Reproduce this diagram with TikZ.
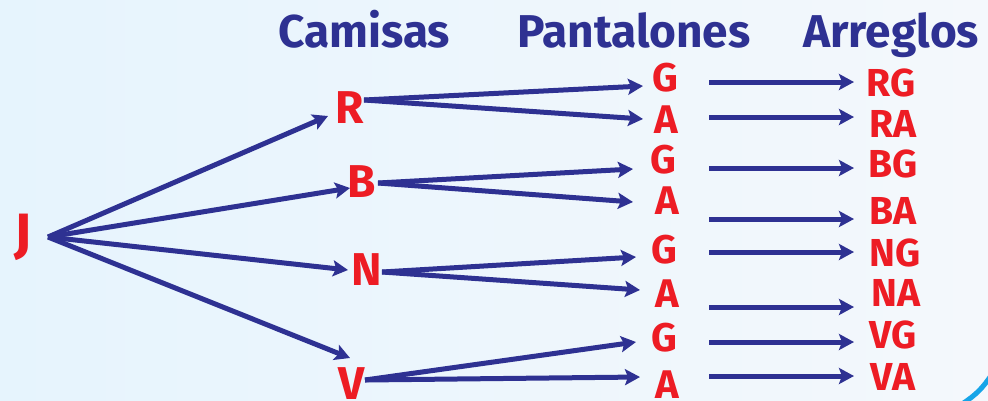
\documentclass[tikz,border=0pt]{standalone}
\usepackage{fontspec}
\setmainfont{Fira Sans}
\usetikzlibrary{arrows.meta,calc}
\definecolor{navy}{HTML}{2E3192}
\definecolor{redl}{HTML}{ED1C24}
\definecolor{bgl}{HTML}{E6F4FD}
\definecolor{bgr}{HTML}{F4F8FC}
\definecolor{arcc}{HTML}{16A5E8}
\tikzset{
  head/.style={text=navy,font=\fontsize{46}{46}\selectfont\bfseries,inner sep=0pt,anchor=base west},
  jl/.style={text=redl,font=\fontsize{54}{54}\selectfont\bfseries,inner sep=0pt},
  cl/.style={text=redl,font=\fontsize{46}{46}\selectfont\bfseries,inner sep=0pt},
  pl/.style={text=redl,font=\fontsize{40}{40}\selectfont\bfseries,inner sep=0pt},
  al/.style={text=redl,font=\fontsize{39}{39}\selectfont\bfseries,inner sep=0pt},
  arr/.style={draw=navy,line width=5pt,-{Stealth[length=15pt,width=16pt,inset=3pt]}}
}
\begin{document}
\begin{tikzpicture}[x=1pt,y=-1pt]
\useasboundingbox (0,0) rectangle (988,400);
\clip (0,0) rectangle (988,400);
\shade[left color=bgl,right color=bgr] (0,0) rectangle (988,400);
\draw[arcc,line width=5pt] (962,404) to[bend right=12] (992,374);
% headings
\node[head] (hC) at (278,47) {Camisas};
\node[head] (hP) at (517,47) {Pantalones};
\node[head] (hA) at (803,47) {Arreglos};
% nodes
\node[jl] (J) at (23,237) {J};
\node[cl] (R) at (350,108) {R};
\node[cl] (B) at (362,182) {B};
\node[cl] (N) at (367,270) {N};
\node[cl] (V) at (352,384) {V};
\node[pl] (G1) at (665,78) {G};
\node[pl] (A1) at (666,120) {A};
\node[pl] (G2) at (663,160) {G};
\node[pl] (A2) at (667,201) {A};
\node[pl] (G3) at (664,250) {G};
\node[pl] (A3) at (667,294) {A};
\node[pl] (G4) at (664,338) {G};
\node[pl] (A4) at (667,385) {A};
\node[al] (RG) at (891,83) {RG};
\node[al] (RA) at (893,124) {RA};
\node[al] (BG) at (893,164) {BG};
\node[al] (BA) at (893,211) {BA};
\node[al] (NG) at (895,253) {NG};
\node[al] (NA) at (896,293) {NA};
\node[al] (VG) at (893,335) {VG};
\node[al] (VA) at (893,377) {VA};
% J arrows
\draw[arr] ($(J)+(25,0)$) -- ($(R)+(-22,8)$);
\draw[arr] ($(J)+(25,0)$) -- ($(B)+(-12,6)$);
\draw[arr] ($(J)+(25,0)$) -- ($(N)+(-19,0)$);
\draw[arr] ($(J)+(25,0)$) -- ($(V)+(-2,-26)$);
% shirt to pants
\draw[arr] ($(R)+(14,-8)$) -- ($(G1)+(-22,8)$);
\draw[arr] ($(R)+(14,-8)$) -- ($(A1)+(-23,-1)$);
\draw[arr] ($(B)+(16,1)$) -- ($(G2)+(-30,9)$);
\draw[arr] ($(B)+(16,1)$) -- ($(A2)+(-34,1)$);
\draw[arr] ($(N)+(15,2)$) -- ($(G3)+(-28,7)$);
\draw[arr] ($(N)+(15,2)$) -- ($(A3)+(-27,-4)$);
\draw[arr] ($(V)+(13,-4)$) -- ($(G4)+(-28,4)$);
\draw[arr] ($(V)+(13,-4)$) -- ($(A4)+(-27,-8)$);
% pants to combos
\draw[arr] ($(G1)+(44,4)$) -- ($(RG)+(-37,-1)$);
\draw[arr] ($(A1)+(43,-3)$) -- ($(RA)+(-39,-7)$);
\draw[arr] ($(G2)+(46,8)$) -- ($(BG)+(-39,4)$);
\draw[arr] ($(A2)+(42,18)$) -- ($(BA)+(-39,8)$);
\draw[arr] ($(G3)+(45,2)$) -- ($(NG)+(-41,-1)$);
\draw[arr] ($(A3)+(42,13)$) -- ($(NA)+(-42,14)$);
\draw[arr] ($(G4)+(45,4)$) -- ($(VG)+(-39,7)$);
\draw[arr] ($(A4)+(42,-9)$) -- ($(VA)+(-39,-1)$);
\end{tikzpicture}
\end{document}
